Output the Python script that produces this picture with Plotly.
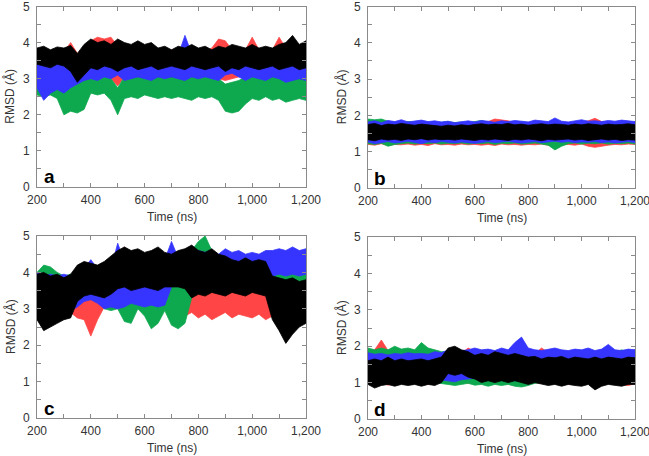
import plotly.graph_objects as go

T = list(range(200, 1201, 25))

# ---------------- Panel a: upper / lower envelopes (Å) ----------------
A_RED_HI = [3.7,3.75,3.7,3.8,3.75,4.0,3.7,3.8,4.05,4.15,4.1,4.15,3.9,3.85,3.8,3.85,3.8,3.85,3.8,3.75,3.8,3.75,3.8,3.75,3.8,3.75,3.85,4.1,4.05,3.8,3.85,3.8,4.15,3.8,3.85,3.8,4.15,3.85,3.9,3.8,3.85]
A_RED_LO = [3.1,3.05,3.1,3.05,3.1,3.0,2.95,3.05,3.1,3.05,3.1,3.0,2.8,3.05,3.1,3.05,3.0,3.1,3.05,3.1,3.05,3.1,3.05,3.1,3.05,3.1,3.05,3.0,2.95,3.0,3.05,3.1,3.05,3.1,3.05,3.1,3.05,3.1,3.05,3.1,3.05]
A_GREEN_HI = [3.15,3.1,3.12,3.05,2.9,2.85,2.9,2.95,3.1,3.05,3.1,3.0,2.75,3.05,3.1,3.05,3.1,3.05,3.1,3.05,3.1,3.05,3.1,3.05,3.1,3.05,3.1,3.0,2.85,2.9,2.95,3.05,3.1,3.05,3.1,3.05,3.1,3.05,3.1,3.05,3.1]
A_GREEN_LO = [2.55,2.5,2.55,2.45,2.0,2.1,2.05,2.15,2.6,2.55,2.6,2.4,2.0,2.45,2.5,2.45,2.55,2.5,2.45,2.5,2.45,2.5,2.45,2.4,2.5,2.45,2.5,2.4,2.1,2.05,2.1,2.3,2.45,2.4,2.5,2.4,2.45,2.35,2.4,2.45,2.4]
A_BLUE_HI = [3.6,3.65,3.55,3.6,3.65,3.6,3.55,3.6,3.65,3.7,3.6,3.65,3.6,3.7,3.65,3.6,3.7,3.65,3.6,3.65,3.7,3.65,4.2,3.7,3.65,3.7,3.6,3.65,3.7,3.6,3.65,3.7,3.65,3.6,3.7,3.65,3.7,3.9,3.65,3.7,3.65]
A_BLUE_LO = [2.75,2.4,2.6,2.7,2.6,2.75,2.85,2.95,3.0,2.95,3.05,3.0,3.1,2.95,3.0,3.05,3.0,2.95,3.05,3.0,3.05,3.0,2.95,3.05,3.0,3.05,3.0,2.95,3.1,3.15,3.05,2.95,3.05,3.0,2.95,3.05,3.0,2.9,2.95,3.0,2.95]
A_BLACK_HI = [3.85,3.9,3.8,3.88,3.85,3.92,3.7,3.95,4.1,4.0,4.05,3.95,4.1,4.0,3.95,4.05,3.95,4.0,3.85,3.9,3.8,3.9,3.85,3.95,3.85,3.9,3.8,3.9,3.85,3.95,3.9,3.85,3.95,3.85,3.9,3.85,3.95,4.0,4.2,3.95,4.05]
A_BLACK_LO = [3.4,3.35,3.3,3.4,3.35,3.2,2.9,3.1,3.3,3.25,3.35,3.3,3.2,3.3,3.35,3.25,3.3,3.35,3.25,3.3,3.35,3.3,3.25,3.35,3.3,3.25,3.3,3.35,3.2,3.3,3.25,3.35,3.3,3.25,3.3,3.35,3.25,3.3,3.35,3.25,3.3]

# ---------------- Panel b ----------------
B_RED_HI = [1.8,1.78,1.82,1.79,1.8,1.77,1.81,1.79,1.8,1.78,1.8,1.77,1.79,1.8,1.78,1.81,1.79,1.8,1.83,1.9,1.88,1.85,1.8,1.79,1.81,1.8,1.78,1.8,1.79,1.81,1.8,1.78,1.82,1.85,1.92,1.83,1.8,1.79,1.81,1.8,1.78]
B_RED_LO = [1.2,1.18,1.22,1.17,1.2,1.19,1.21,1.18,1.2,1.17,1.22,1.19,1.2,1.18,1.21,1.19,1.2,1.18,1.2,1.17,1.21,1.19,1.2,1.18,1.2,1.19,1.21,1.18,1.2,1.19,1.2,1.18,1.21,1.15,1.12,1.14,1.18,1.2,1.19,1.21,1.2]
B_GREEN_HI = [1.9,1.88,1.9,1.84,1.82,1.8,1.83,1.81,1.8,1.82,1.8,1.81,1.83,1.8,1.82,1.8,1.84,1.86,1.81,1.8,1.82,1.8,1.81,1.83,1.8,1.82,1.8,1.81,1.8,1.82,1.8,1.81,1.83,1.8,1.82,1.8,1.81,1.8,1.82,1.8,1.81]
B_GREEN_LO = [1.22,1.2,1.23,1.15,1.2,1.22,1.24,1.21,1.23,1.22,1.24,1.21,1.23,1.22,1.24,1.21,1.23,1.22,1.24,1.2,1.23,1.22,1.24,1.21,1.22,1.24,1.21,1.18,1.05,1.15,1.22,1.24,1.21,1.23,1.22,1.24,1.21,1.23,1.22,1.24,1.21]
B_BLUE_HI = [1.82,1.85,1.8,1.86,1.83,1.88,1.82,1.85,1.87,1.83,1.85,1.82,1.84,1.8,1.83,1.85,1.82,1.86,1.84,1.81,1.85,1.83,1.86,1.84,1.82,1.87,1.85,1.83,1.93,1.84,1.82,1.86,1.88,1.84,1.85,1.83,1.86,1.84,1.87,1.85,1.83]
B_BLUE_LO = [1.27,1.22,1.25,1.28,1.24,1.26,1.29,1.25,1.22,1.27,1.25,1.28,1.26,1.24,1.27,1.25,1.23,1.26,1.28,1.25,1.27,1.29,1.26,1.24,1.27,1.28,1.25,1.27,1.29,1.26,1.28,1.25,1.27,1.26,1.28,1.25,1.27,1.24,1.26,1.28,1.25]
B_BLACK_HI = [1.75,1.78,1.72,1.76,1.74,1.78,1.75,1.73,1.76,1.74,1.72,1.7,1.73,1.71,1.74,1.72,1.75,1.77,1.74,1.76,1.75,1.78,1.74,1.76,1.73,1.75,1.77,1.74,1.76,1.75,1.73,1.76,1.74,1.77,1.75,1.73,1.76,1.74,1.75,1.77,1.74]
B_BLACK_LO = [1.33,1.3,1.35,1.32,1.34,1.31,1.35,1.33,1.36,1.32,1.35,1.33,1.34,1.32,1.35,1.33,1.31,1.34,1.32,1.35,1.33,1.31,1.34,1.32,1.35,1.33,1.3,1.34,1.32,1.33,1.35,1.32,1.34,1.31,1.33,1.35,1.32,1.34,1.31,1.33,1.32]

# ---------------- Panel c ----------------
C_RED_HI = [3.9,4.0,3.85,3.9,3.8,3.85,3.7,3.5,3.4,3.6,3.7,3.8,4.0,4.7,4.2,4.0,3.9,3.95,3.9,3.8,3.6,3.5,3.6,3.7,3.75,3.7,3.75,3.65,3.7,3.75,3.6,3.7,3.65,3.7,3.6,3.9,3.8,3.7,3.65,3.6,3.5]
C_RED_LO = [2.9,2.85,2.95,2.9,2.95,2.9,2.75,2.7,2.25,2.7,3.05,3.1,3.05,3.0,3.1,3.05,3.1,3.05,3.1,3.05,2.9,2.85,2.8,2.9,2.75,2.85,2.7,2.8,2.9,2.75,2.85,2.8,2.75,2.85,2.7,2.8,2.9,2.85,2.75,2.6,2.7]
C_GREEN_HI = [4.0,4.2,4.15,4.0,3.9,3.95,3.85,3.8,3.8,3.75,3.7,3.75,3.8,3.7,3.75,3.7,3.75,3.8,3.7,3.75,3.7,3.75,3.7,4.6,4.85,5.0,4.6,4.4,4.3,4.2,4.25,4.2,4.15,4.2,4.1,4.2,4.0,3.95,4.0,3.9,3.95]
C_GREEN_LO = [2.9,2.95,3.0,2.95,3.0,2.95,3.3,3.35,3.3,3.3,3.0,2.95,3.0,2.65,2.6,3.0,2.8,2.45,2.6,2.95,2.55,2.45,2.6,3.3,3.5,3.6,3.5,3.6,3.55,3.6,3.5,3.55,3.6,3.5,3.55,3.1,3.0,3.1,3.0,3.1,3.05]
C_BLUE_HI = [4.0,3.9,3.95,3.9,3.95,3.9,4.0,4.1,4.35,4.1,4.2,4.1,4.8,4.3,4.2,4.3,4.2,4.25,4.3,4.35,4.85,4.4,4.5,4.55,4.6,4.55,4.6,4.5,4.65,4.55,4.6,4.5,4.55,4.5,4.6,4.6,4.65,4.6,4.7,4.6,4.65]
C_BLUE_LO = [2.85,2.9,2.95,2.9,2.85,2.95,3.05,3.2,3.25,3.15,3.0,3.05,3.0,3.05,3.15,3.1,3.05,3.1,3.05,3.1,3.6,3.75,3.8,3.85,3.9,3.95,3.9,3.95,3.9,3.95,3.9,3.95,3.9,3.95,3.9,3.9,3.95,3.9,3.95,3.9,3.95]
C_BLACK_HI = [3.95,4.0,3.9,3.95,3.85,3.95,4.2,4.3,4.25,4.2,4.3,4.45,4.6,4.7,4.6,4.65,4.55,4.6,4.7,4.55,4.5,4.6,4.65,4.75,4.6,4.55,4.65,4.5,4.45,4.35,4.3,4.4,4.3,4.35,4.3,3.9,3.85,3.8,3.85,3.75,3.8]
C_BLACK_LO = [2.7,2.4,2.5,2.6,2.7,2.75,3.2,3.35,3.4,3.35,3.3,3.4,3.55,3.6,3.5,3.55,3.6,3.55,3.5,3.6,3.6,3.6,3.55,3.3,3.4,3.35,3.45,3.4,3.35,3.45,3.4,3.35,3.45,3.4,3.35,2.7,2.4,2.05,2.3,2.5,2.6]

# ---------------- Panel d ----------------
D_RED_HI = [1.85,1.9,2.17,1.88,1.85,1.82,1.85,1.83,1.85,1.8,1.84,1.82,1.85,1.88,1.8,1.95,1.85,1.83,1.8,1.85,1.82,1.8,1.84,1.82,1.85,1.8,1.95,1.83,1.85,1.8,1.82,1.85,1.8,1.84,1.82,1.85,1.8,1.83,1.85,1.82,1.8]
D_RED_LO = [0.98,0.95,1.0,0.93,0.97,1.0,0.95,0.98,1.0,0.95,0.97,1.0,1.05,1.0,1.02,0.98,1.0,0.97,1.0,0.98,1.02,0.97,1.0,0.98,0.95,1.0,0.97,0.95,1.0,0.97,0.95,0.98,1.0,0.97,0.95,0.98,0.97,1.0,0.95,0.92,0.97]
D_GREEN_HI = [1.95,1.9,1.95,1.9,2.0,1.92,1.95,1.9,2.1,1.95,1.9,1.85,1.85,1.82,1.8,1.86,1.8,1.83,1.85,1.8,1.82,1.87,1.8,1.84,1.82,1.8,1.85,1.83,1.8,1.86,1.82,1.8,1.84,1.85,1.81,1.83,1.86,1.82,1.9,1.85,1.9]
D_GREEN_LO = [1.0,0.98,1.02,0.97,1.0,1.02,0.98,1.0,0.97,1.02,1.0,0.98,0.95,0.92,0.95,0.98,0.93,0.95,0.9,0.95,0.92,0.95,0.9,0.88,0.92,0.98,1.0,0.97,1.0,0.98,1.02,0.97,1.0,0.98,1.0,0.97,1.02,0.98,1.0,0.97,1.0]
D_BLUE_HI = [1.82,1.78,1.8,1.76,1.8,1.78,1.82,1.79,1.8,1.78,1.85,1.82,1.9,1.85,1.88,1.9,1.95,1.9,1.92,1.88,1.95,1.9,2.1,2.25,1.95,1.9,1.88,1.92,1.95,1.9,1.88,1.92,1.9,1.95,1.88,1.92,2.05,1.9,1.88,1.92,1.9]
D_BLUE_LO = [1.1,1.05,1.12,1.08,1.1,1.03,1.1,1.07,1.12,1.05,1.1,1.08,1.05,1.02,1.08,1.1,1.12,1.05,1.1,1.08,1.15,1.1,1.05,1.1,1.12,1.08,1.1,1.05,1.1,1.07,1.12,1.08,1.1,1.05,1.12,1.08,1.1,1.06,1.1,1.08,1.1]
D_BLACK_HI = [1.6,1.65,1.6,1.7,1.6,1.65,1.6,1.62,1.65,1.6,1.65,1.7,1.95,2.0,1.9,1.85,1.75,1.8,1.75,1.85,1.8,1.75,1.8,1.75,1.7,1.72,1.65,1.7,1.68,1.72,1.65,1.7,1.68,1.65,1.7,1.65,1.7,1.68,1.65,1.7,1.68]
D_BLACK_LO = [0.95,0.85,0.92,0.95,0.9,0.95,0.92,0.95,0.9,0.95,0.92,1.0,1.25,1.2,1.25,1.15,1.1,1.0,1.05,1.0,1.05,1.0,1.05,1.0,0.95,1.0,0.95,0.92,0.95,0.9,0.95,0.92,0.9,0.95,0.8,0.9,0.95,0.92,0.9,0.95,0.95]

PANEL_LETTERS = ["a", "b", "c", "d"]
X_TICKS = [200, 300, 400, 500, 600, 700, 800, 900, 1000, 1100, 1200]
X_TICK_TEXT = ["200", "", "400", "", "600", "", "800", "", "1,000", "", "1,200"]
Y_TICKS = [0, 0.5, 1, 1.5, 2, 2.5, 3, 3.5, 4, 4.5, 5]
Y_TICK_TEXT = ["0", "", "1", "", "2", "", "3", "", "4", "", "5"]

COLORS = {"red": "#ff4545", "green": "#0ea84f", "blue": "#3535ff", "black": "#000000"}
ORDER = ["red", "green", "blue", "black"]

PANELS = [
    {"red": (A_RED_HI, A_RED_LO), "green": (A_GREEN_HI, A_GREEN_LO), "blue": (A_BLUE_HI, A_BLUE_LO), "black": (A_BLACK_HI, A_BLACK_LO)},
    {"red": (B_RED_HI, B_RED_LO), "green": (B_GREEN_HI, B_GREEN_LO), "blue": (B_BLUE_HI, B_BLUE_LO), "black": (B_BLACK_HI, B_BLACK_LO)},
    {"red": (C_RED_HI, C_RED_LO), "green": (C_GREEN_HI, C_GREEN_LO), "blue": (C_BLUE_HI, C_BLUE_LO), "black": (C_BLACK_HI, C_BLACK_LO)},
    {"red": (D_RED_HI, D_RED_LO), "green": (D_GREEN_HI, D_GREEN_LO), "blue": (D_BLUE_HI, D_BLUE_LO), "black": (D_BLACK_HI, D_BLACK_LO)},
]

W, H = 649, 456
# plot areas in pixels: (left, right, top, bottom)
BOXES = [(37, 306, 6.5, 187), (368, 635, 6.5, 188), (37, 306, 236, 418), (368, 635, 237, 419)]

fig = go.Figure()
for i, panel in enumerate(PANELS):
    sfx = "" if i == 0 else str(i + 1)
    for name in ORDER:
        hi, lo = panel[name]
        assert len(hi) == len(T) and len(lo) == len(T), (i, name)
        fig.add_trace(go.Scatter(
            x=T + T[::-1], y=hi + lo[::-1], mode="lines", fill="toself",
            fillcolor=COLORS[name], line=dict(color=COLORS[name], width=0.8),
            hoverinfo="skip", showlegend=False, xaxis="x" + sfx, yaxis="y" + sfx))

axis_common = dict(showgrid=False, zeroline=False, showline=True, linecolor="#8a8a8a", linewidth=1,
                   mirror="allticks", ticks="inside", ticklen=4, tickcolor="#8a8a8a", tickwidth=1,
                   tickfont=dict(family="Liberation Sans, Arial, sans-serif", size=12, color="#333333"),
                   automargin=False, fixedrange=True, ticklabeloverflow="allow")

layout = dict(width=W, height=H, paper_bgcolor="white", plot_bgcolor="white",
              margin=dict(l=0, r=0, t=0, b=0), showlegend=False)
annotations = []
font_lbl = dict(family="Liberation Sans, Arial, sans-serif", size=12, color="#333333")
for i, (l, r, t, b) in enumerate(BOXES):
    sfx = "" if i == 0 else str(i + 1)
    layout["xaxis" + sfx] = dict(axis_common, domain=[l / W, r / W], range=[200, 1200],
                                 tickvals=X_TICKS, ticktext=X_TICK_TEXT, anchor="y" + sfx,
                                 ticklabelstandoff=2)
    layout["yaxis" + sfx] = dict(axis_common, domain=[1 - b / H, 1 - t / H], range=[0, 5],
                                 tickvals=Y_TICKS, ticktext=Y_TICK_TEXT, anchor="x" + sfx,
                                 ticklabelstandoff=4)
    cy = (t + b) / 2
    annotations.append(dict(text="RMSD (Å)", x=(l - 27) / W, y=1 - cy / H, xref="paper", yref="paper",
                            textangle=-90, showarrow=False, font=font_lbl, xanchor="center", yanchor="middle"))
    annotations.append(dict(text="Time (ns)", x=(l + r) / 2 / W, y=1 - (b + 30) / H, xref="paper", yref="paper",
                            showarrow=False, font=font_lbl, xanchor="center", yanchor="middle"))
    annotations.append(dict(text="<b>%s</b>" % PANEL_LETTERS[i], x=(l + 12) / W, y=1 - (b - 10) / H,
                            xref="paper", yref="paper", showarrow=False,
                            font=dict(family="Liberation Sans, Arial, sans-serif", size=19, color="black"),
                            xanchor="center", yanchor="middle"))
layout["annotations"] = annotations
fig.update_layout(**layout)
fig.write_html("out.html", config={"displayModeBar": False},
               post_script="document.body.style.margin='0';document.body.style.overflow='hidden';")
